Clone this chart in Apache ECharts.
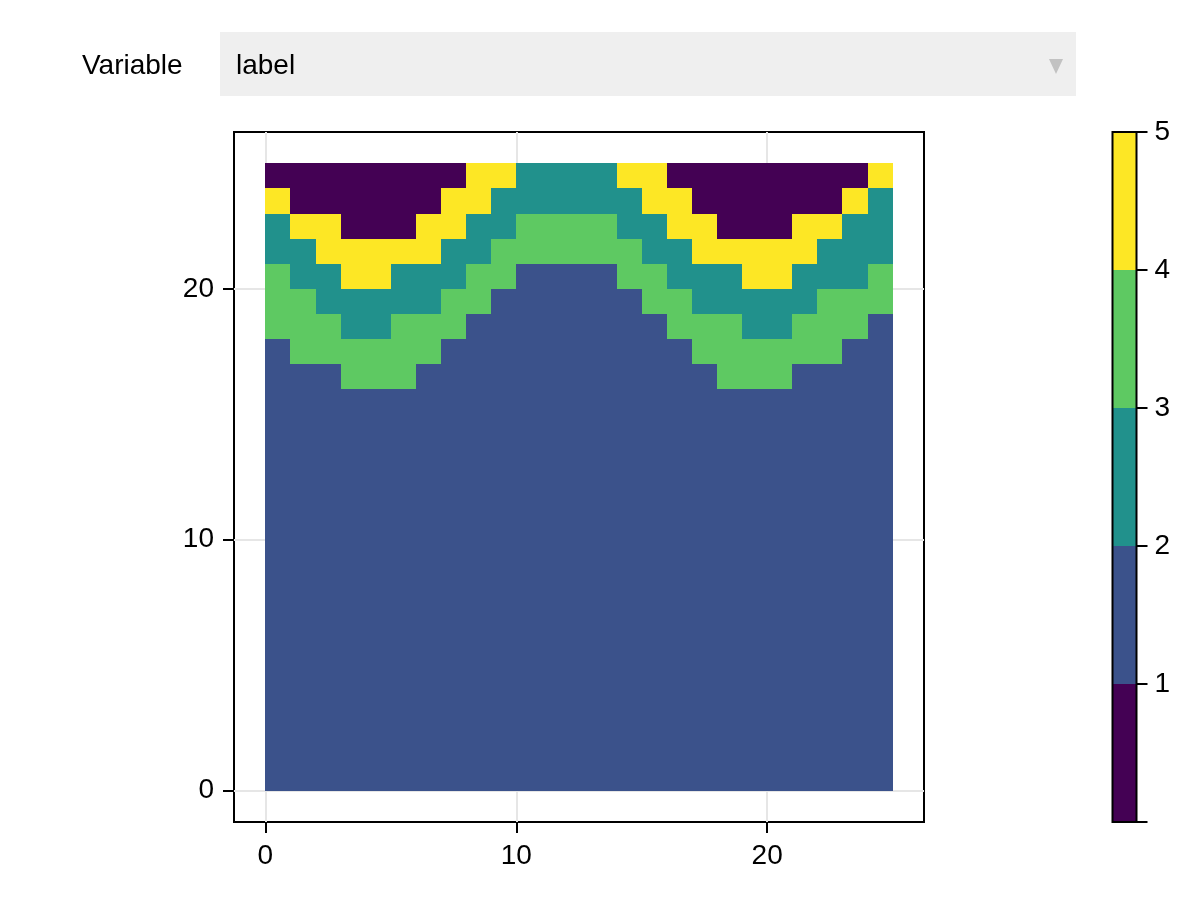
<!DOCTYPE html>
<html>
<head>
<meta charset="utf-8">
<title>label</title>
<style>
  html, body { margin: 0; padding: 0; background: #fff; }
  #chart { width: 1200px; height: 900px; }
</style>
<script src="https://cdn.jsdelivr.net/npm/echarts@6/dist/echarts.min.js"></script>
</head>
<body>
<div id="chart"></div>
<script>
// upper edge of each label region, one entry per column (0..24)
const blueTop   = [18, 17, 17, 16, 16, 16, 17, 18, 19, 20, 21, 21, 21, 21, 20, 19, 18, 17, 16, 16, 16, 17, 17, 18, 19];
const greenTop  = [21, 20, 19, 18, 18, 19, 19, 20, 21, 22, 23, 23, 23, 23, 22, 21, 20, 19, 19, 18, 18, 19, 20, 20, 21];
const tealTop   = [23, 22, 21, 20, 20, 21, 21, 22, 23, 24, 25, 25, 25, 25, 24, 23, 22, 21, 21, 20, 20, 21, 22, 23, 24];
const yellowTop = [24, 23, 23, 22, 22, 22, 23, 24, 25, 25, 25, 25, 25, 25, 25, 25, 24, 23, 22, 22, 22, 23, 23, 24, 25];
const purpleTop = [25, 25, 25, 25, 25, 25, 25, 25, 25, 25, 25, 25, 25, 25, 25, 25, 25, 25, 25, 25, 25, 25, 25, 25, 25];

const axisTicks = [0, 10, 20];
const barLevels = [0, 1, 2, 3, 4, 5];
const colors = ['#440154', '#3b528b', '#21918c', '#5ec962', '#fde725'];

const fontFamily = '"Liberation Sans", Arial, sans-serif';
const fontSize = 28;

// a column segment [col, from, to] -> one rect
function renderCell(params, api) {
    const p0 = api.coord([api.value(0), api.value(1)]);
    const p1 = api.coord([api.value(0) + 1, api.value(2)]);
    const x0 = Math.round(p0[0]), x1 = Math.round(p1[0]);
    const y0 = Math.round(p0[1]), y1 = Math.round(p1[1]);
    return {
        type: 'rect',
        shape: { x: x0, y: y1, width: x1 - x0, height: y0 - y1 },
        style: { fill: api.visual('color') }
    };
}

// stack the tops into segments, bottom to top
const regions = [
    { color: colors[1], lower: null, upper: blueTop },
    { color: colors[3], lower: blueTop, upper: greenTop },
    { color: colors[2], lower: greenTop, upper: tealTop },
    { color: colors[4], lower: tealTop, upper: yellowTop },
    { color: colors[0], lower: yellowTop, upper: purpleTop }
];

const mapSeries = regions.map(r => ({
    type: 'custom',
    xAxisIndex: 0,
    yAxisIndex: 0,
    coordinateSystem: 'cartesian2d',
    renderItem: renderCell,
    itemStyle: { color: r.color },
    encode: { x: 0, y: [1, 2] },
    silent: true,
    data: r.upper.map((top, col) => [col, r.lower ? r.lower[col] : 0, top])
}));

const barSeries = colors.map((c, i) => ({
    type: 'custom',
    xAxisIndex: 1,
    yAxisIndex: 1,
    coordinateSystem: 'cartesian2d',
    renderItem: renderCell,
    itemStyle: { color: c },
    encode: { x: 0, y: [1, 2] },
    silent: true,
    z: -1,
    data: [[0, barLevels[i], barLevels[i + 1]]]
}));

const labelStyle = { color: '#000', fontFamily: fontFamily, fontSize: fontSize };
const tickStyle = { length: 11, lineStyle: { color: '#000', width: 2 } };
const gridLine = { lineStyle: { color: '#e6e6e6', width: 2 } };

const chart = echarts.init(document.getElementById('chart'));
chart.setOption({
    animation: false,
    backgroundColor: '#fff',
    grid: [
        { left: 234, top: 132, width: 690, height: 690, show: true, borderColor: '#000', borderWidth: 2, containLabel: false },
        { left: 1112.5, top: 132, width: 24, height: 690, show: true, borderColor: '#000', borderWidth: 2, containLabel: false }
    ],
    xAxis: [
        {
            gridIndex: 0, type: 'value', min: -1.25, max: 26.25,
            axisLine: { show: false, onZero: false },
            axisTick: Object.assign({ customValues: axisTicks }, tickStyle),
            axisLabel: Object.assign({ customValues: axisTicks, margin: 20 }, labelStyle),
            splitLine: Object.assign({ show: true, customValues: axisTicks }, gridLine)
        },
        { gridIndex: 1, type: 'value', min: 0, max: 1, show: false }
    ],
    yAxis: [
        {
            gridIndex: 0, type: 'value', min: -1.25, max: 26.25,
            axisLine: { show: false, onZero: false },
            axisTick: Object.assign({ customValues: axisTicks }, tickStyle),
            axisLabel: Object.assign({ customValues: axisTicks, margin: 20, padding: [8, 0, 0, 0] }, labelStyle),
            splitLine: Object.assign({ show: true, customValues: axisTicks }, gridLine)
        },
        {
            gridIndex: 1, type: 'value', min: 0, max: 5, interval: 1, position: 'right',
            axisLine: { show: false, onZero: false },
            axisTick: tickStyle,
            axisLabel: Object.assign({ margin: 18, padding: [8, 0, 0, 0], formatter: v => (v === 0 ? '' : String(v)) }, labelStyle),
            splitLine: { show: false }
        }
    ],
    series: mapSeries.concat(barSeries),
    graphic: [
        {
            type: 'text', left: 82, top: 52, silent: true,
            style: { text: 'Variable', fill: '#000', font: fontSize + 'px ' + fontFamily }
        },
        {
            type: 'rect', left: 220, top: 32, silent: true, z: 0,
            shape: { width: 856, height: 64 },
            style: { fill: '#efefef' }
        },
        {
            type: 'text', left: 236, top: 52, silent: true, z: 1,
            style: { text: 'label', fill: '#000', font: fontSize + 'px ' + fontFamily }
        },
        {
            type: 'polygon', left: 1049, top: 59, silent: true, z: 1,
            shape: { points: [[0, 0], [14, 0], [7, 15]] },
            style: { fill: '#c2c2c2' }
        }
    ]
});
</script>
</body>
</html>
